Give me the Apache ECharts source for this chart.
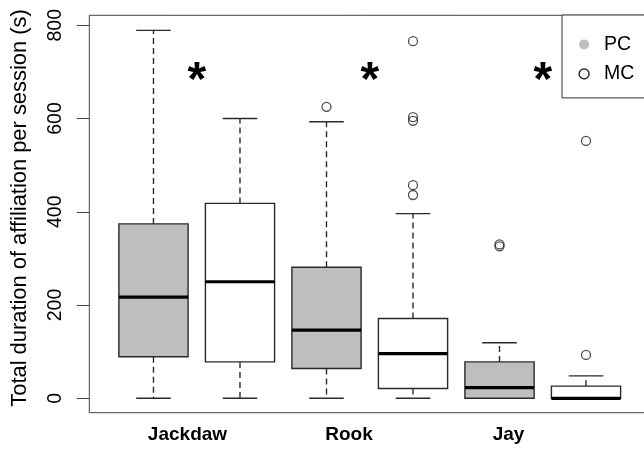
<!DOCTYPE html>
<html><head><meta charset="utf-8">
<script src="https://cdn.jsdelivr.net/npm/echarts@6/dist/echarts.min.js"></script>
<style>html,body{margin:0;padding:0;background:#fff}#c{width:644px;height:449px}</style>
</head><body><div id="c"></div>
<script>
// ---- data ----
const species = ['Jackdaw', 'Rook', 'Jay'];
const groups = ['PC', 'MC'];
// [lower whisker, Q1, median, Q3, upper whisker]
const pcStats = [[0, 89, 217, 374, 789], [0, 64, 146, 281, 593], [0, 0, 23, 78, 119]];
const mcStats = [[0, 78, 250, 418, 600], [0, 21, 96, 171, 396], [0, 0, 0, 26, 48]];
const pcOutliers = [[], [625], [330, 326]];
const mcOutliers = [[], [766, 603, 595, 457, 436], [552, 93]];
const yTicks = [0, 200, 400, 600, 800];
const sigLabel = ['*', '*', '*'];
const sigValue = [696, 696, 696];
const labelAt = [1.393, 3.26, 5.104];

// ---- build ----
const FONT = "'Liberation Sans', Arial, Helvetica, sans-serif";
const BOXW = 0.8;
const pcPos = species.map((s, i) => 2 * i + 1);
const mcPos = species.map((s, i) => 2 * i + 2);
const pcData = pcStats.map((s, i) => [pcPos[i]].concat(s));
const mcData = mcStats.map((s, i) => [mcPos[i]].concat(s));
const pcOut = [], mcOut = [];
pcOutliers.forEach((arr, i) => arr.forEach(v => pcOut.push([pcPos[i], v])));
mcOutliers.forEach((arr, i) => arr.forEach(v => mcOut.push([mcPos[i], v])));
const sigData = species.map((s, i) => [(pcPos[i] + mcPos[i]) / 2, sigValue[i]]);

function makeRender(fill) {
  return function (params, api) {
    const x = api.value(0);
    const lo = api.coord([x, api.value(1)]);
    const q1 = api.coord([x, api.value(2)]);
    const md = api.coord([x, api.value(3)]);
    const q3 = api.coord([x, api.value(4)]);
    const hi = api.coord([x, api.value(5)]);
    const w = api.size([BOXW, 0])[0];
    const cx = lo[0];
    const lc = '#2a2a2a';
    const lw = 1.4;
    const dash = { stroke: lc, lineWidth: lw, lineDash: [6, 4] };
    const solid = { stroke: lc, lineWidth: lw };
    const ch = [];
    if (hi[1] < q3[1]) ch.push({ type: 'line', shape: { x1: cx, y1: q3[1], x2: cx, y2: hi[1] }, style: dash });
    if (lo[1] > q1[1]) ch.push({ type: 'line', shape: { x1: cx, y1: q1[1], x2: cx, y2: lo[1] }, style: dash });
    ch.push({ type: 'line', shape: { x1: cx - w / 4, y1: hi[1], x2: cx + w / 4, y2: hi[1] }, style: solid });
    ch.push({ type: 'line', shape: { x1: cx - w / 4, y1: lo[1], x2: cx + w / 4, y2: lo[1] }, style: solid });
    ch.push({ type: 'rect', shape: { x: cx - w / 2, y: q3[1], width: w, height: q1[1] - q3[1] }, style: { fill: fill, stroke: lc, lineWidth: lw } });
    ch.push({ type: 'line', shape: { x1: cx - w / 2, y1: md[1], x2: cx + w / 2, y2: md[1] }, style: { stroke: '#000', lineWidth: 3.2 } });
    return { type: 'group', children: ch };
  };
}

function renderSig(params, api) {
  const p = api.coord([api.value(0), api.value(1)]);
  return {
    type: 'text', x: p[0], y: p[1] + 8,
    style: { text: sigLabel[params.dataIndex], fill: '#000', font: 'bold 48px ' + FONT, align: 'center', verticalAlign: 'middle' }
  };
}

const chart = echarts.init(document.getElementById('c'), null, { renderer: 'canvas' });
chart.setOption({
  animation: false,
  backgroundColor: '#fff',
  textStyle: { fontFamily: FONT },
  grid: {
    left: 89.3, top: 15.3, right: -6.2, bottom: 36.3,
    show: true, borderColor: '#444', borderWidth: 1, backgroundColor: 'transparent',
    containLabel: false, outerBoundsMode: 'none'
  },
  legend: {
    orient: 'vertical', left: 562, top: 15,
    data: [
      { name: groups[0], icon: 'circle', itemStyle: { color: '#bebebe', borderWidth: 0 } },
      { name: groups[1], icon: 'circle', itemStyle: { color: '#fff', borderColor: '#000', borderWidth: 1.2 } }
    ],
    itemWidth: 30, itemHeight: 10, itemGap: 9.4,
    padding: [19.5, 30, 14, 16.5],
    borderColor: '#333', borderWidth: 1, backgroundColor: '#fff',
    textStyle: { fontSize: 19.5, color: '#000', fontFamily: FONT, lineHeight: 20 },
    selectedMode: false
  },
  xAxis: {
    type: 'value', min: 0.258, max: 6.742,
    axisLine: { show: false }, axisTick: { show: false }, splitLine: { show: false },
    axisLabel: {
      customValues: labelAt, margin: 13, fontSize: 19, fontWeight: 'bold', color: '#000', fontFamily: FONT,
      formatter: function (v) { const i = labelAt.findIndex(a => Math.abs(a - v) < 1e-6); return i >= 0 ? species[i] : ''; }
    }
  },
  yAxis: {
    type: 'value', min: -30.9, max: 821.4,
    axisLine: { show: false }, splitLine: { show: false },
    axisTick: { show: true, length: 12.5, customValues: yTicks, lineStyle: { color: '#444', width: 1 } },
    axisLabel: { customValues: yTicks, rotate: 90, margin: 24, fontSize: 19.5, color: '#000', fontFamily: FONT },
    name: 'Total duration of affiliation per session (s)', nameLocation: 'middle', nameRotate: 90, nameGap: 58,
    nameTextStyle: { fontSize: 21.9, color: '#000', fontFamily: FONT, padding: [0, 0, 0, 12] }
  },
  series: [
    { name: groups[0], type: 'custom', renderItem: makeRender('#bebebe'), data: pcData, encode: { x: 0, y: [1, 2, 3, 4, 5] }, itemStyle: { color: '#bebebe' }, z: 2 },
    { name: groups[1], type: 'custom', renderItem: makeRender('#ffffff'), data: mcData, encode: { x: 0, y: [1, 2, 3, 4, 5] }, itemStyle: { color: '#fff' }, z: 2 },
    { name: 'PC outliers', type: 'scatter', data: pcOut, symbol: 'circle', symbolSize: 9, itemStyle: { color: 'rgba(0,0,0,0)', borderColor: '#222', borderWidth: 1.3 }, z: 3 },
    { name: 'MC outliers', type: 'scatter', data: mcOut, symbol: 'circle', symbolSize: 9, itemStyle: { color: 'rgba(0,0,0,0)', borderColor: '#222', borderWidth: 1.3 }, z: 3 },
    { name: 'sig', type: 'custom', renderItem: renderSig, data: sigData, encode: { x: 0, y: 1 }, z: 4 }
  ]
});
</script></body></html>
